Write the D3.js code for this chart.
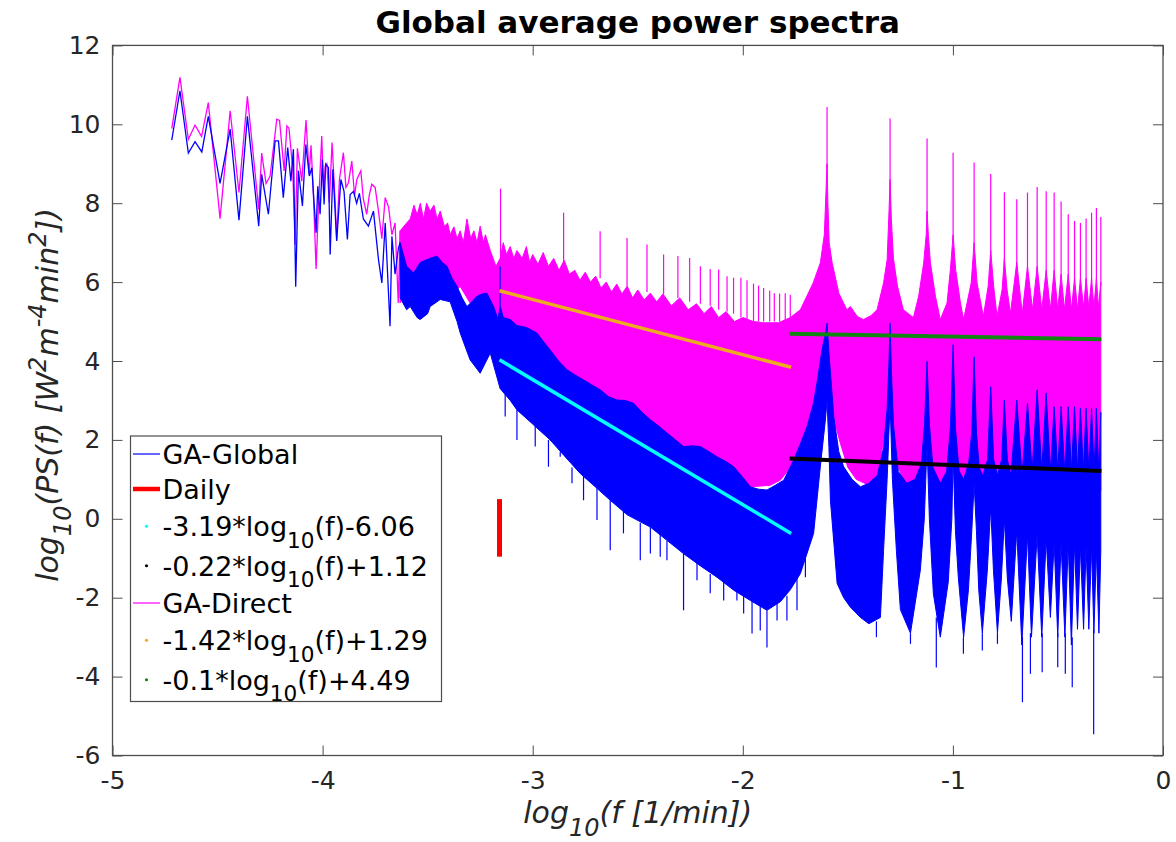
<!DOCTYPE html>
<html>
<head>
<meta charset="utf-8">
<script src="https://cdn.jsdelivr.net/npm/d3@7"></script>
<style>
  body { margin: 0; background: #fff; }
  svg { display: block; font-family: "DejaVu Sans", sans-serif; }
</style>
</head>
<body>
<svg id="chart" width="1176" height="842"></svg>
<script>
// --- Data (log10 f, log10 PS) ---
const X_TICKS = [-5, -4, -3, -2, -1, 0];
const Y_TICKS = [-6, -4, -2, 0, 2, 4, 6, 8, 10, 12];

// GA-Global, low frequency part (single resolved line)
const globalLine = [
    [-4.718, 9.60], [-4.679, 10.85], [-4.639, 9.27], [-4.607, 9.56], [-4.575, 9.30], [-4.544, 10.20],
    [-4.488, 8.50], [-4.440, 9.88], [-4.398, 7.57], [-4.358, 10.20], [-4.304, 7.42], [-4.290, 8.73],
    [-4.258, 7.72], [-4.226, 9.58], [-4.210, 9.58], [-4.187, 8.14], [-4.166, 9.41], [-4.151, 8.56],
    [-4.139, 9.37], [-4.128, 5.88], [-4.115, 8.82], [-4.096, 7.93], [-4.080, 9.49], [-4.063, 8.69],
    [-4.051, 8.90], [-4.044, 8.27], [-4.031, 7.25], [-4.023, 8.43], [-4.012, 7.72], [-4.001, 9.11],
    [-3.993, 7.97], [-3.985, 8.99], [-3.972, 8.90], [-3.964, 6.70], [-3.951, 8.86], [-3.933, 7.04],
    [-3.913, 8.60], [-3.898, 8.30], [-3.882, 7.08], [-3.869, 8.22], [-3.853, 8.30], [-3.838, 8.00],
    [-3.825, 8.25], [-3.806, 7.60], [-3.782, 7.42], [-3.758, 7.80], [-3.734, 6.57], [-3.718, 5.98],
    [-3.702, 7.50], [-3.679, 4.88], [-3.670, 7.16], [-3.655, 6.20], [-3.639, 6.87], [-3.631, 7.00]
];

// GA-Global, dense part: upper and lower envelope
const globalUpper = [
    [-3.631, 7.0], [-3.60, 6.4], [-3.567, 6.23], [-3.535, 6.5], [-3.504, 6.57], [-3.456, 6.66],
    [-3.43, 6.5], [-3.408, 6.40], [-3.384, 6.1], [-3.360, 5.89], [-3.336, 5.6], [-3.313, 5.38],
    [-3.29, 5.5], [-3.266, 5.64], [-3.24, 5.7], [-3.218, 5.72], [-3.186, 5.38], [-3.165, 5.05],
    [-3.155, 5.4], [-3.14, 5.1], [-3.107, 5.05], [-3.075, 4.9], [-3.03, 4.85], [-2.98, 4.71],
    [-2.95, 4.5], [-2.917, 4.28], [-2.877, 4.0], [-2.837, 3.78], [-2.80, 3.65], [-2.758, 3.52],
    [-2.72, 3.4], [-2.679, 3.27], [-2.64, 3.1], [-2.599, 3.01], [-2.56, 3.0], [-2.52, 2.93],
    [-2.48, 2.7], [-2.44, 2.51], [-2.40, 2.35], [-2.36, 2.17], [-2.32, 2.0], [-2.282, 1.83],
    [-2.24, 1.85], [-2.202, 1.83], [-2.16, 1.7], [-2.123, 1.57], [-2.08, 1.45], [-2.043, 1.32],
    [-2.0, 1.05], [-1.964, 0.81], [-1.925, 0.75], [-1.885, 0.73], [-1.845, 0.85], [-1.805, 0.98],
    [-1.758, 1.49], [-1.726, 1.9], [-1.694, 2.34], [-1.665, 2.9], [-1.647, 3.44], [-1.623, 4.28],
    [-1.607, 4.7], [-1.599, 4.96], [-1.591, 4.28], [-1.567, 2.59], [-1.543, 1.7], [-1.52, 1.32],
    [-1.48, 1.0], [-1.44, 0.81], [-1.40, 0.9], [-1.36, 1.1], [-1.33, 1.8], [-1.313, 2.8],
    [-1.304, 4.0], [-1.299, 4.96], [-1.293, 3.8], [-1.283, 2.4], [-1.26, 1.2], [-1.22, 0.9],
    [-1.18, 1.0], [-1.15, 1.4], [-1.135, 2.4], [-1.123, 3.99], [-1.112, 2.4], [-1.095, 1.3],
    [-1.06, 0.9], [-1.03, 1.2], [-1.012, 2.3], [-0.999, 4.41], [-0.988, 2.3], [-0.970, 1.2],
    [-0.949, 1.0], [-0.925, 1.4], [-0.910, 2.2], [-0.899, 4.11], [-0.888, 2.2], [-0.875, 1.3],
    [-0.858, 1.1], [-0.835, 1.5], [-0.820, 3.35], [-0.806, 1.5], [-0.788, 1.1], [-0.768, 1.5],
    [-0.755, 3.01], [-0.741, 1.5], [-0.724, 1.1], [-0.696, 3.01], [-0.671, 1.1], [-0.645, 2.93],
    [-0.623, 1.2], [-0.599, 3.27], [-0.577, 1.2], [-0.556, 3.19], [-0.536, 1.2], [-0.518, 2.84],
    [-0.501, 1.2], [-0.485, 2.84], [-0.468, 1.2], [-0.451, 2.84], [-0.436, 1.2], [-0.421, 2.84],
    [-0.407, 1.2], [-0.393, 2.8], [-0.379, 1.2], [-0.366, 2.8], [-0.353, 1.2], [-0.340, 2.8],
    [-0.328, 1.2], [-0.317, 2.8], [-0.306, 1.2], [-0.296, 2.7]
];
const globalLower = [
    [-3.631, 5.6], [-3.60, 5.3], [-3.583, 5.38], [-3.55, 5.1], [-3.536, 5.05], [-3.50, 5.2],
    [-3.488, 5.38], [-3.44, 5.56], [-3.393, 5.5], [-3.36, 5.0], [-3.345, 4.71], [-3.31, 4.2],
    [-3.298, 4.03], [-3.25, 3.69], [-3.202, 4.2], [-3.155, 3.3], [-3.107, 3.0], [-3.075, 2.76],
    [-3.0, 2.4], [-2.917, 2.0], [-2.85, 1.6], [-2.774, 1.15], [-2.70, 0.8], [-2.631, 0.47],
    [-2.55, 0.1], [-2.44, -0.21], [-2.36, -0.55], [-2.283, -0.88], [-2.20, -1.2], [-2.123, -1.48],
    [-2.043, -1.81], [-1.964, -2.07], [-1.885, -2.32], [-1.821, -2.1], [-1.774, -1.8], [-1.726, -1.39],
    [-1.663, -0.37], [-1.631, 1.32], [-1.607, 2.5], [-1.599, 3.0], [-1.59, 1.8], [-1.583, 0.47],
    [-1.551, -1.64], [-1.52, -2.0], [-1.488, -2.24], [-1.44, -2.5], [-1.40, -2.66], [-1.345, -2.5],
    [-1.330, -0.8], [-1.313, 1.0], [-1.299, 2.94], [-1.288, 1.0], [-1.269, -0.8], [-1.250, -2.3],
    [-1.202, -2.9], [-1.155, -1.3], [-1.136, 0.0], [-1.123, 1.9], [-1.112, 0.0], [-1.093, -1.9],
    [-1.060, -3.0], [-1.022, -1.6], [-1.005, 0.0], [-0.999, 1.6], [-0.988, -0.3], [-0.974, -1.5],
    [-0.949, -3.0], [-0.926, -1.8], [-0.910, -0.3], [-0.899, 0.9], [-0.888, -0.3], [-0.877, -1.8],
    [-0.860, -2.9], [-0.836, -1.3], [-0.820, 0.3], [-0.807, -1.3], [-0.788, -2.9], [-0.769, -1.5],
    [-0.755, 0.0], [-0.741, -1.5], [-0.722, -2.6], [-0.696, -0.3], [-0.672, -3.2], [-0.645, -0.4],
    [-0.626, -3.0], [-0.599, -0.4], [-0.577, -3.0], [-0.556, -0.5], [-0.536, -2.5], [-0.518, -0.6],
    [-0.501, -3.0], [-0.485, -0.6], [-0.467, -3.0], [-0.451, -0.6], [-0.436, -3.2], [-0.421, -0.6],
    [-0.407, -2.8], [-0.393, -0.7], [-0.378, -2.8], [-0.366, -0.7], [-0.353, -2.8], [-0.340, -0.7],
    [-0.329, -2.9], [-0.317, -0.8], [-0.305, -2.9], [-0.296, -0.8]
];
// isolated spikes [x, from, to]
const globalSpikes = [
    [-3.155, 5.4, 6.4], [-3.131, 3.2, 2.59], [-3.075, 2.76, 2.0], [-2.988, 2.4, 1.83],
    [-2.925, 2.0, 1.32], [-2.869, 1.7, 1.57], [-2.813, 1.3, 0.9], [-2.758, 1.1, 0.47],
    [-2.694, 0.8, -0.03], [-2.631, 0.47, -0.8], [-2.568, 0.2, -0.37], [-2.488, -0.1, -1.05],
    [-2.440, -0.2, -0.88], [-2.393, -0.4, -0.96], [-2.361, -0.55, -1.05], [-2.282, -0.88, -2.32],
    [-2.218, -1.1, -1.56], [-2.155, -1.4, -1.89], [-2.091, -1.6, -2.07], [-2.028, -1.85, -2.07],
    [-1.996, -1.95, -2.4], [-1.956, -2.07, -2.91], [-1.917, -2.2, -2.83], [-1.885, -2.32, -3.26],
    [-1.837, -2.15, -2.58], [-1.790, -1.95, -2.58], [-1.742, -1.5, -2.32], [-1.702, -1.0, -1.48],
    [-1.364, -2.6, -3.0], [-1.202, -2.9, -3.17], [-1.079, -2.5, -3.77], [-0.950, -3.0, -3.42],
    [-0.860, -2.9, -3.34], [-0.788, -2.9, -3.17], [-0.669, -3.0, -4.65], [-0.631, -2.9, -3.93],
    [-0.575, -2.9, -3.89], [-0.501, -2.9, -3.76], [-0.465, -2.9, -3.93], [-0.432, -3.0, -4.27],
    [-0.330, -2.8, -5.46]
];

// GA-Direct, low frequency part
const directLine = [
    [-4.718, 9.89], [-4.679, 11.19], [-4.639, 9.62], [-4.607, 9.98], [-4.576, 9.69], [-4.544, 10.55],
    [-4.488, 7.61], [-4.440, 10.34], [-4.398, 8.27], [-4.358, 10.71], [-4.304, 7.84], [-4.290, 9.27],
    [-4.269, 8.50], [-4.250, 8.69], [-4.218, 10.13], [-4.205, 10.10], [-4.183, 8.82], [-4.170, 9.96],
    [-4.160, 9.90], [-4.142, 8.86], [-4.131, 6.95], [-4.120, 9.39], [-4.099, 8.56], [-4.079, 10.11],
    [-4.064, 8.73], [-4.055, 9.47], [-4.044, 8.27], [-4.031, 6.33], [-4.020, 7.90], [-4.004, 9.70],
    [-3.995, 8.20], [-3.988, 8.94], [-3.980, 9.00], [-3.968, 8.01], [-3.955, 9.54], [-3.940, 8.01],
    [-3.933, 7.08], [-3.920, 8.60], [-3.901, 9.28], [-3.889, 8.40], [-3.877, 8.52], [-3.861, 9.07],
    [-3.848, 8.20], [-3.837, 8.60], [-3.818, 8.82], [-3.806, 8.10], [-3.790, 7.72], [-3.778, 8.20],
    [-3.766, 8.48], [-3.750, 8.40], [-3.734, 7.80], [-3.718, 7.10], [-3.702, 8.14], [-3.686, 7.90],
    [-3.670, 7.20], [-3.655, 7.50], [-3.640, 5.47], [-3.631, 7.30]
];
const directUpper = [
    [-3.631, 7.3], [-3.60, 7.5], [-3.583, 7.6], [-3.565, 7.95], [-3.55, 7.7], [-3.535, 8.0],
    [-3.52, 7.6], [-3.505, 8.0], [-3.488, 7.8], [-3.47, 7.95], [-3.455, 7.6], [-3.44, 7.8],
    [-3.42, 7.4], [-3.405, 7.5], [-3.393, 7.2], [-3.375, 7.4], [-3.36, 7.1], [-3.345, 7.3],
    [-3.33, 7.0], [-3.313, 7.6], [-3.295, 7.1], [-3.28, 7.3], [-3.265, 7.0], [-3.25, 7.42],
    [-3.235, 7.0], [-3.225, 7.2], [-3.202, 6.8], [-3.175, 6.4], [-3.155, 6.6], [-3.14, 7.0],
    [-3.125, 6.7], [-3.107, 6.9], [-3.09, 6.6], [-3.075, 6.8], [-3.05, 6.6], [-3.03, 6.9],
    [-3.015, 6.5], [-3.0, 6.7], [-2.975, 6.45], [-2.95, 6.75], [-2.925, 6.4], [-2.90, 6.6],
    [-2.875, 6.3], [-2.85, 6.55], [-2.825, 6.2], [-2.80, 6.3], [-2.775, 6.05], [-2.75, 6.25],
    [-2.725, 6.0], [-2.70, 6.15], [-2.675, 5.85], [-2.65, 6.0], [-2.625, 5.75], [-2.60, 5.95],
    [-2.575, 5.7], [-2.55, 5.9], [-2.525, 5.6], [-2.50, 5.8], [-2.47, 5.55], [-2.44, 5.72],
    [-2.41, 5.5], [-2.38, 5.7], [-2.34, 5.4], [-2.30, 5.6], [-2.26, 5.3], [-2.22, 5.45],
    [-2.185, 5.2], [-2.15, 5.38], [-2.115, 5.1], [-2.08, 5.25], [-2.04, 5.0], [-2.0, 5.1],
    [-1.95, 5.0], [-1.90, 4.97], [-1.83, 4.97], [-1.774, 5.1], [-1.726, 5.3], [-1.665, 5.98],
    [-1.631, 6.49], [-1.612, 7.2], [-1.604, 8.3], [-1.599, 9.0], [-1.595, 8.0], [-1.589, 7.0],
    [-1.575, 6.5], [-1.543, 5.72], [-1.505, 5.3],
    [-1.488, 5.38], [-1.455, 5.13], [-1.426, 5.05], [-1.39, 5.15], [-1.361, 5.3], [-1.330, 5.98],
    [-1.313, 6.57], [-1.304, 7.8], [-1.299, 8.6], [-1.293, 7.6], [-1.283, 6.6], [-1.264, 5.9],
    [-1.236, 5.3], [-1.188, 5.1], [-1.163, 5.64], [-1.139, 6.49], [-1.127, 7.2], [-1.123, 7.8],
    [-1.117, 7.2], [-1.107, 6.49], [-1.083, 5.64], [-1.060, 5.05], [-1.028, 5.47], [-1.012, 6.32],
    [-0.999, 7.2], [-0.987, 6.32], [-0.964, 5.47], [-0.949, 5.05], [-0.913, 5.98], [-0.899, 7.0],
    [-0.885, 5.98], [-0.855, 5.13], [-0.832, 5.9], [-0.820, 6.8], [-0.806, 5.9], [-0.790, 5.13],
    [-0.766, 5.8], [-0.755, 6.6], [-0.742, 5.8], [-0.726, 5.21], [-0.696, 6.5], [-0.670, 5.21],
    [-0.645, 6.4], [-0.621, 5.3], [-0.599, 6.4], [-0.577, 5.3], [-0.556, 6.3], [-0.536, 5.3],
    [-0.518, 6.3], [-0.501, 5.3], [-0.485, 6.2], [-0.469, 5.3], [-0.451, 6.2], [-0.436, 5.3],
    [-0.421, 6.1], [-0.407, 5.3], [-0.393, 6.1], [-0.378, 5.35], [-0.366, 6.1], [-0.353, 5.35],
    [-0.340, 6.1], [-0.329, 5.35], [-0.317, 6.1], [-0.307, 5.35], [-0.296, 6.0]
];
const directLower = [
    [-3.631, 5.47], [-3.60, 5.8], [-3.583, 6.06], [-3.536, 6.49], [-3.488, 6.57], [-3.44, 6.32],
    [-3.393, 5.64], [-3.345, 5.89], [-3.298, 5.47], [-3.25, 5.47], [-3.22, 5.05], [-3.185, 4.6],
    [-3.155, 4.2], [-3.12, 4.2], [-3.075, 3.6], [-3.0, 3.3], [-2.917, 3.0], [-2.85, 2.7],
    [-2.774, 2.34], [-2.679, 2.0], [-2.58, 1.75], [-2.44, 1.57], [-2.30, 1.41], [-2.155, 1.16],
    [-2.06, 0.95], [-1.964, 0.81], [-1.87, 0.85], [-1.821, 0.98], [-1.774, 1.3], [-1.726, 1.74],
    [-1.68, 2.4], [-1.65, 3.0], [-1.62, 3.3], [-1.60, 3.5], [-1.583, 3.19], [-1.56, 2.4],
    [-1.536, 1.92], [-1.50, 1.3], [-1.46, 1.0], [-1.40, 0.85], [-1.36, 1.0], [-1.33, 2.0],
    [-1.31, 2.8], [-1.30, 3.0], [-1.285, 2.4], [-1.26, 1.3], [-1.22, 0.8], [-1.17, 0.9],
    [-1.14, 1.3], [-1.123, 1.9], [-1.105, 1.3], [-1.07, 0.9], [-1.03, 0.9], [-1.0, 1.5],
    [-0.97, 0.9], [-0.93, 0.8], [-0.90, 1.3], [-0.87, 0.8], [-0.82, 1.1], [-0.78, 0.7],
    [-0.755, 1.0], [-0.72, 0.6], [-0.69, 0.9], [-0.66, 0.5], [-0.62, 0.8], [-0.58, 0.6],
    [-0.54, 0.9], [-0.50, 0.7], [-0.45, 0.9], [-0.40, 0.6], [-0.35, 0.8], [-0.296, 0.7]
];
const directSpikes = [
    [-3.153, 6.5, 8.37], [-2.853, 6.5, 7.76], [-2.679, 6.1, 7.29], [-2.551, 5.9, 7.12],
    [-2.456, 5.75, 6.95], [-2.377, 5.7, 6.70], [-2.309, 5.6, 6.66], [-2.253, 5.5, 6.61],
    [-2.202, 5.45, 6.40], [-2.155, 5.4, 6.33], [-2.115, 5.3, 6.32], [-2.075, 5.25, 6.15],
    [-2.044, 5.2, 6.11], [-2.009, 5.1, 6.11], [-1.980, 5.05, 6.05], [-1.949, 5.0, 5.96],
    [-1.925, 5.0, 5.91], [-1.901, 5.0, 5.85], [-1.872, 5.0, 5.79], [-1.850, 5.0, 5.72],
    [-1.825, 5.0, 5.71], [-1.798, 5.0, 5.72], [-1.774, 5.1, 5.68],
    [-1.599, 8.5, 10.44], [-1.299, 8.0, 10.15], [-1.123, 7.5, 9.64], [-0.999, 7.0, 9.28],
    [-0.899, 6.8, 9.03], [-0.820, 6.6, 8.74], [-0.755, 6.4, 8.28], [-0.696, 6.3, 8.10],
    [-0.645, 6.3, 8.27], [-0.599, 6.3, 8.41], [-0.556, 6.2, 8.30], [-0.518, 6.2, 8.27],
    [-0.485, 6.1, 8.04], [-0.451, 6.1, 7.72], [-0.421, 6.0, 7.55], [-0.393, 6.0, 7.50],
    [-0.366, 6.0, 7.61], [-0.340, 6.0, 7.76], [-0.317, 6.0, 7.88], [-0.296, 5.9, 7.65]
];

// linear fits (end points)
const fitGlobalLow = [[-3.158, 4.03], [-1.770, -0.37]];
const fitGlobalHigh = [[-1.777, 1.53], [-0.293, 1.21]];
const fitDirectLow = [[-3.158, 5.78], [-1.770, 3.84]];
const fitDirectHigh = [[-1.777, 4.69], [-0.293, 4.55]];
const dailyMark = [[-3.158, -0.96], [-3.158, 0.5]];

const COLORS = {
    global: "#0000ff",
    direct: "#ff00ff",
    daily: "#ff0000",
    cyan: "#00ffff",
    black: "#000000",
    orange: "#edaa22",
    green: "#138513",
    axis: "#4d4d4d",
    text: "#262626"
};

const legendItems = [
    { label: "GA-Global", kind: "line", color: COLORS.global, width: 1.2 },
    { label: "Daily", kind: "line", color: COLORS.daily, width: 4.5 },
    { label: "-3.19*log_{10}(f)-6.06", kind: "dot", color: COLORS.cyan },
    { label: "-0.22*log_{10}(f)+1.12", kind: "dot", color: COLORS.black },
    { label: "GA-Direct", kind: "line", color: COLORS.direct, width: 1.2 },
    { label: "-1.42*log_{10}(f)+1.29", kind: "dot", color: COLORS.orange },
    { label: "-0.1*log_{10}(f)+4.49", kind: "dot", color: COLORS.green }
];

// --- Setup ---
const svg = d3.select("#chart");
const x = d3.scaleLinear().domain([-5, 0]).range([112.5, 1163]);
const y = d3.scaleLinear().domain([-6, 12]).range([755.5, 45.4]);
const line = d3.line().x(d => x(d[0])).y(d => y(d[1]));

svg.append("rect").attr("width", 1176).attr("height", 842).attr("fill", "#fff");

// tiny TeX-like helper for _{..} and ^{..}
function addTex(text, str, fs) {
    const re = /([_^])\{([^}]*)\}/g;
    let last = 0, m, shift = 0;
    const part = (s, dy, small) => {
        if (!s) return;
        const t = text.append("tspan").text(s).attr("dy", dy);
        if (small) t.attr("font-size", fs * 0.8);
    };
    while ((m = re.exec(str))) {
        part(str.slice(last, m.index), -shift, false);
        shift = 0;
        const off = m[1] === "_" ? fs * 0.42 : -fs * 0.4;
        part(m[2], off, true);
        shift = off;
        last = re.lastIndex;
    }
    part(str.slice(last), -shift, false);
}

// --- Plot ---
const plot = svg.append("g");

function drawSeries(lowLine, upper, lower, spikes, color) {
    plot.append("path")
        .attr("d", line(upper.concat(lower.slice().reverse())) + "Z")
        .attr("fill", color)
        .attr("stroke", color)
        .attr("stroke-width", 1)
        .attr("stroke-linejoin", "round");
    plot.append("path")
        .attr("d", line(lowLine))
        .attr("fill", "none")
        .attr("stroke", color)
        .attr("stroke-width", 1.3);
    plot.append("g").selectAll("line")
        .data(spikes)
        .join("line")
        .attr("x1", d => x(d[0])).attr("x2", d => x(d[0]))
        .attr("y1", d => y(d[1])).attr("y2", d => y(d[2]))
        .attr("stroke", color)
        .attr("stroke-width", 1.2);
}

drawSeries(directLine, directUpper, directLower, directSpikes, COLORS.direct);
drawSeries(globalLine, globalUpper, globalLower, globalSpikes, COLORS.global);

const fits = [
    [fitDirectLow, COLORS.orange, 3.5],
    [fitDirectHigh, COLORS.green, 4],
    [fitGlobalLow, COLORS.cyan, 3.5],
    [fitGlobalHigh, COLORS.black, 4]
];
fits.forEach(([pts, color, w]) => {
    plot.append("path")
        .attr("d", line(pts))
        .attr("fill", "none")
        .attr("stroke", color)
        .attr("stroke-width", w);
});

plot.append("path")
    .attr("d", line(dailyMark))
    .attr("stroke", COLORS.daily)
    .attr("stroke-width", 5);

// --- Axes ---
function styleAxis(g) {
    g.select(".domain").remove();
    g.selectAll("line").attr("stroke", COLORS.axis);
    g.attr("font-size", 25).attr("font-family", "DejaVu Sans");
    g.selectAll("text").attr("fill", COLORS.text);
}
const fmt = d => String(d);

svg.append("g")
    .attr("transform", `translate(0,${y(-6)})`)
    .call(d3.axisBottom(x).tickValues(X_TICKS).tickSizeInner(-10).tickSizeOuter(0).tickPadding(16).tickFormat(fmt))
    .call(styleAxis);
svg.append("g")
    .attr("transform", `translate(0,${y(12)})`)
    .call(d3.axisTop(x).tickValues(X_TICKS).tickSizeInner(-10).tickSizeOuter(0).tickFormat(""))
    .call(styleAxis);
svg.append("g")
    .attr("transform", `translate(${x(-5)},0)`)
    .call(d3.axisLeft(y).tickValues(Y_TICKS).tickSizeInner(-10).tickSizeOuter(0).tickPadding(12).tickFormat(fmt))
    .call(styleAxis);
svg.append("g")
    .attr("transform", `translate(${x(0)},0)`)
    .call(d3.axisRight(y).tickValues(Y_TICKS).tickSizeInner(-10).tickSizeOuter(0).tickFormat(""))
    .call(styleAxis);

svg.append("rect")
    .attr("x", x(-5)).attr("y", y(12))
    .attr("width", x(0) - x(-5)).attr("height", y(-6) - y(12))
    .attr("fill", "none")
    .attr("stroke", COLORS.axis)
    .attr("stroke-width", 1.3);

// --- Titles ---
svg.append("text")
    .attr("x", (x(-5) + x(0)) / 2).attr("y", 33)
    .attr("text-anchor", "middle")
    .attr("font-size", 31).attr("font-weight", "bold")
    .text("Global average power spectra");

const xl = svg.append("text")
    .attr("x", (x(-5) + x(0)) / 2).attr("y", 823)
    .attr("text-anchor", "middle")
    .attr("font-size", 30).attr("font-style", "italic")
    .attr("fill", COLORS.text);
addTex(xl, "log_{10}(f [1/min])", 30);

const yl = svg.append("text")
    .attr("transform", "translate(58,395) rotate(-90)")
    .attr("text-anchor", "middle")
    .attr("font-size", 30).attr("font-style", "italic")
    .attr("fill", COLORS.text);
addTex(yl, "log_{10}(PS(f) [W^{2}m^{-4}min^{2}])", 30);

// --- Legend ---
const legend = svg.append("g");
const box = { x: 130.5, y: 436, w: 311 };
let cy = box.y + 0.5;
const rows = legendItems.map(d => {
    const h = d.label.includes("_{") ? 39.5 : 35;
    const c = cy + h / 2;
    cy += h;
    return { ...d, cy: c };
});
legend.append("rect")
    .attr("x", box.x).attr("y", box.y)
    .attr("width", box.w).attr("height", cy + 2 - box.y)
    .attr("fill", "#fff")
    .attr("stroke", COLORS.axis)
    .attr("stroke-width", 1.2);

rows.forEach(r => {
    if (r.kind === "line") {
        legend.append("line")
            .attr("x1", 133).attr("x2", 160)
            .attr("y1", r.cy).attr("y2", r.cy)
            .attr("stroke", r.color).attr("stroke-width", r.width);
    } else {
        legend.append("circle")
            .attr("cx", 146.5).attr("cy", r.cy).attr("r", 1.6)
            .attr("fill", r.color);
    }
    const t = legend.append("text")
        .attr("x", 162.5).attr("y", r.cy + 10)
        .attr("font-size", 27);
    addTex(t, r.label, 27);
});
</script>
</body>
</html>
